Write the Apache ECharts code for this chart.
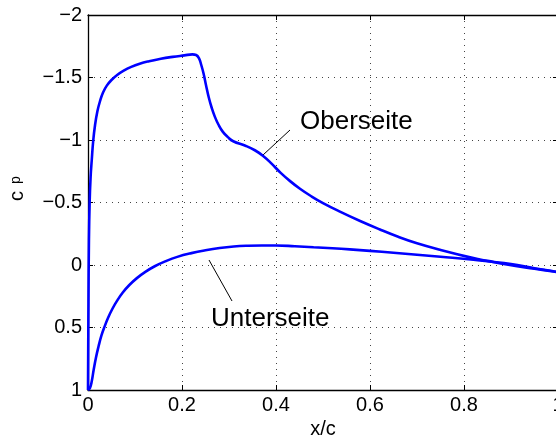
<!DOCTYPE html>
<html>
<head>
<meta charset="utf-8">
<script src="https://cdn.jsdelivr.net/npm/echarts@6/dist/echarts.min.js"></script>
<style>
  html, body { margin: 0; padding: 0; background: #fff; }
  #chart { width: 556px; height: 437px; }
</style>
</head>
<body>
<div id="chart"></div>
<script>
// Druckverteilung c_p über x/c – Ober- und Unterseite
const upperX  = [0, 0.001, 0.002, 0.0035, 0.0055, 0.008, 0.011, 0.015, 0.02, 0.0255, 0.032, 0.04, 0.05, 0.062, 0.076, 0.092, 0.11, 0.13, 0.155, 0.18, 0.205, 0.222, 0.23, 0.236, 0.241, 0.246, 0.251, 0.257, 0.263, 0.27, 0.278, 0.287, 0.297, 0.309, 0.335, 0.355, 0.372, 0.39, 0.41, 0.43, 0.451, 0.475, 0.5, 0.536, 0.579, 0.62, 0.66, 0.7, 0.749, 0.82, 0.85, 0.891, 0.95, 0.99, 1.0];
const upperCp = [1.0, 0.3, -0.2, -0.5, -0.7, -0.84, -0.99, -1.12, -1.23, -1.31, -1.38, -1.435, -1.48, -1.52, -1.555, -1.585, -1.61, -1.63, -1.65, -1.665, -1.677, -1.685, -1.68, -1.655, -1.6, -1.53, -1.44, -1.34, -1.26, -1.185, -1.12, -1.065, -1.025, -0.99, -0.954, -0.918, -0.874, -0.813, -0.737, -0.671, -0.61, -0.55, -0.495, -0.427, -0.352, -0.286, -0.226, -0.174, -0.122, -0.055, -0.033, -0.004, 0.03, 0.052, 0.058];

const lowerX  = [0, 0.004, 0.008, 0.012, 0.017, 0.0225, 0.0285, 0.035, 0.043, 0.052, 0.062, 0.074, 0.088, 0.104, 0.122, 0.142, 0.165, 0.19, 0.22, 0.25, 0.28, 0.31, 0.34, 0.37, 0.4, 0.44, 0.48, 0.52, 0.557, 0.6, 0.65, 0.7, 0.75, 0.82, 0.85, 0.9, 0.95, 0.99, 1.0];
const lowerCp = [1.0, 0.985, 0.93, 0.84, 0.74, 0.65, 0.565, 0.495, 0.42, 0.35, 0.285, 0.22, 0.16, 0.105, 0.055, 0.01, -0.03, -0.065, -0.095, -0.118, -0.136, -0.148, -0.154, -0.156, -0.156, -0.15, -0.142, -0.134, -0.125, -0.113, -0.098, -0.082, -0.066, -0.043, -0.03, -0.008, 0.026, 0.05, 0.058];

const xTicks = [0, 0.2, 0.4, 0.6, 0.8, 1];
const yTicks = [-2, -1.5, -1, -0.5, 0, 0.5, 1];

const FONT = 'Liberation Sans, Arial, Helvetica, sans-serif';

function pairs(xs, ys) {
    return xs.map((x, i) => [x, ys[i]]);
}

function fmtY(v) {
    return v < 0 ? '\u2212' + String(-v) : String(v);
}

const chart = echarts.init(document.getElementById('chart'));

const axisLine = { show: true, onZero: false, lineStyle: { color: '#000', width: 1.3 } };
const axisTick = { show: true, inside: true, length: 5, lineStyle: { color: '#000', width: 1 } };
const splitLine = { show: true, lineStyle: { color: '#444', width: 1, type: [1, 5] } };

const xBase = {
    type: 'value',
    min: xTicks[0],
    max: xTicks[xTicks.length - 1],
    interval: 0.2,
    axisLine: axisLine,
    axisTick: axisTick
};
const yBase = {
    type: 'value',
    min: yTicks[0],
    max: yTicks[yTicks.length - 1],
    interval: 0.5,
    inverse: true,
    axisLine: axisLine,
    axisTick: axisTick
};

const option = {
    animation: false,
    backgroundColor: '#fff',
    grid: { left: 88, top: 15, width: 470, height: 375, containLabel: false, outerBoundsMode: 'none' },
    xAxis: [
        Object.assign({}, xBase, {
            position: 'bottom',
            splitLine: splitLine,
            name: 'x/c',
            nameLocation: 'middle',
            nameGap: 27,
            nameTextStyle: { fontFamily: FONT, fontSize: 20, color: '#000' },
            axisLabel: { fontFamily: FONT, fontSize: 20, color: '#000', margin: 5 }
        }),
        Object.assign({}, xBase, {
            position: 'top',
            splitLine: { show: false },
            axisLabel: { show: false }
        })
    ],
    yAxis: [
        Object.assign({}, yBase, {
            position: 'left',
            splitLine: splitLine,
            axisLabel: { fontFamily: FONT, fontSize: 20, color: '#000', margin: 6, formatter: fmtY }
        }),
        Object.assign({}, yBase, {
            position: 'right',
            splitLine: { show: false },
            axisLabel: { show: false }
        })
    ],
    series: [
        {
            name: 'Oberseite',
            type: 'line',
            data: pairs(upperX, upperCp),
            showSymbol: false,
            smooth: 0.45,
            lineStyle: { color: '#0000ff', width: 2.6 }
        },
        {
            name: 'Unterseite',
            type: 'line',
            data: pairs(lowerX, lowerCp),
            showSymbol: false,
            smooth: 0.45,
            lineStyle: { color: '#0000ff', width: 2.6 }
        }
    ],
    graphic: [
        // Achsenbeschriftung c_p (gedreht)
        { type: 'text', x: 17, y: 196, rotation: Math.PI / 2,
          style: { text: 'c', font: '20px ' + FONT, fill: '#000', align: 'center', verticalAlign: 'middle' } },
        { type: 'text', x: 16, y: 180, rotation: Math.PI / 2,
          style: { text: 'p', font: '14px ' + FONT, fill: '#000', align: 'center', verticalAlign: 'middle' } },
        // Annotation Oberseite
        { type: 'line', shape: { x1: 263, y1: 155, x2: 290, y2: 130 },
          style: { stroke: '#000', lineWidth: 1 } },
        { type: 'text', x: 300, y: 122,
          style: { text: 'Oberseite', font: '26px ' + FONT, fill: '#000', align: 'left', verticalAlign: 'middle' } },
        // Annotation Unterseite
        { type: 'line', shape: { x1: 209, y1: 260, x2: 232, y2: 301 },
          style: { stroke: '#000', lineWidth: 1 } },
        { type: 'text', x: 211, y: 319,
          style: { text: 'Unterseite', font: '26px ' + FONT, fill: '#000', align: 'left', verticalAlign: 'middle' } }
    ]
};

chart.setOption(option);
</script>
</body>
</html>
